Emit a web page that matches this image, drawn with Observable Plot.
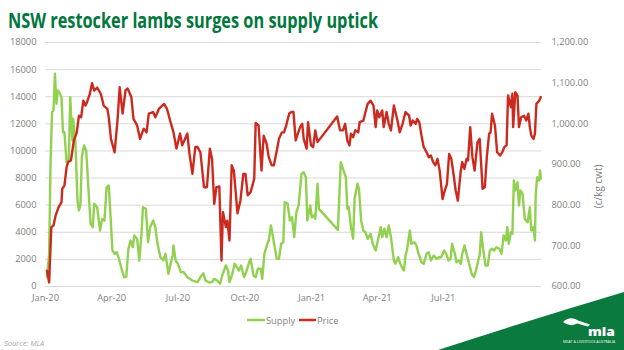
<!DOCTYPE html>
<html>
<head>
<meta charset="utf-8">
<script src="https://cdn.jsdelivr.net/npm/d3@7"></script>
<script src="https://cdn.jsdelivr.net/npm/@observablehq/plot@0.6"></script>
<style>
  html, body { margin: 0; padding: 0; background: #ffffff; }
  #wrap { position: relative; width: 624px; height: 350px; overflow: hidden; background: #ffffff; }
  #chart { position: absolute; left: 0; top: 0; }
  #overlay { position: absolute; left: 0; top: 0; pointer-events: none; }
</style>
</head>
<body>
<div id="wrap">
  <div id="chart"></div>
  <svg id="overlay" width="624" height="350" xmlns="http://www.w3.org/2000/svg">
    <text x="8" y="27.5" font-family="'Open Sans', sans-serif" font-weight="700" font-size="21" fill="#00773c" textLength="370" lengthAdjust="spacingAndGlyphs">NSW restocker lambs surges on supply uptick</text>
    <line x1="247" y1="320" x2="265" y2="320" stroke="#92d050" stroke-width="2.5"/>
    <text x="266" y="323.5" font-family="'Open Sans', sans-serif" font-size="9.3" fill="#7f7f7f">Supply</text>
    <line x1="299" y1="320" x2="316" y2="320" stroke="#cc2a1f" stroke-width="2.5"/>
    <text x="317" y="323.5" font-family="'Open Sans', sans-serif" font-size="9.3" fill="#7f7f7f">Price</text>
    <text x="4" y="346" font-family="'Open Sans', sans-serif" font-style="italic" font-size="7.5" fill="#a6a6a6">Source: MLA</text>
    <path d="M438,350 Q530,320 624,292 L624,350 Z" fill="#0b7a3e"/>
    <path d="M563,322 Q570,315.5 578,320.5 L590,324.5 L588,326.5 L577,323.5 Q570,327.5 563,322 Z" fill="#ffffff"/>
    <text x="588" y="335.5" font-family="'Open Sans', sans-serif" font-weight="800" font-size="12" fill="#ffffff" textLength="27" lengthAdjust="spacingAndGlyphs">mla</text>
    <text x="563" y="343" font-family="'Open Sans', sans-serif" font-size="3" fill="#ffffff" textLength="52" lengthAdjust="spacingAndGlyphs">MEAT &amp; LIVESTOCK AUSTRALIA</text>
  </svg>
</div>
<script>
// ---- Data ----
const priceDates = [
"2020-01-15","2020-01-18","2020-01-21","2020-01-24","2020-01-27","2020-01-31","2020-02-04","2020-02-05","2020-02-08","2020-02-11",
"2020-02-13","2020-02-17","2020-02-21","2020-02-25","2020-02-28","2020-03-02","2020-03-05","2020-03-08","2020-03-10","2020-03-14",
"2020-03-17","2020-03-20","2020-03-24","2020-03-29","2020-04-02","2020-04-07","2020-04-09","2020-04-12","2020-04-17","2020-04-21",
"2020-04-24","2020-04-28","2020-05-02","2020-05-05","2020-05-10","2020-05-13","2020-05-18","2020-05-22","2020-05-27","2020-05-31",
"2020-06-03","2020-06-09","2020-06-12","2020-06-17","2020-06-24","2020-06-28","2020-07-03","2020-07-07","2020-07-11","2020-07-16",
"2020-07-19","2020-07-26","2020-07-29","2020-08-02","2020-08-06","2020-08-09","2020-08-13","2020-08-18","2020-08-22","2020-08-26",
"2020-08-29","2020-09-01","2020-09-04","2020-09-08","2020-09-11","2020-09-13","2020-09-17","2020-09-19","2020-09-22","2020-09-25",
"2020-09-28","2020-10-03","2020-10-07","2020-10-11","2020-10-14","2020-10-17","2020-10-21","2020-10-26","2020-10-28","2020-11-01",
"2020-11-05","2020-11-08","2020-11-12","2020-11-15","2020-11-19","2020-11-22","2020-11-26","2020-11-29","2020-12-03","2020-12-06",
"2020-12-09","2020-12-13","2020-12-16","2020-12-19","2020-12-22","2020-12-25","2020-12-28","2020-12-31","2021-01-02","2021-01-06",
"2021-01-08","2021-01-12","2021-01-15","2021-01-18","2021-01-21","2021-02-17","2021-02-21","2021-02-25","2021-02-28","2021-03-03",
"2021-03-06","2021-03-08","2021-03-11","2021-03-14","2021-03-18","2021-03-20","2021-03-25","2021-03-28","2021-03-31","2021-04-04",
"2021-04-08","2021-04-11","2021-04-13","2021-04-16","2021-04-20","2021-04-22","2021-04-26","2021-04-29","2021-05-02","2021-05-06",
"2021-05-11","2021-05-14","2021-05-18","2021-05-22","2021-05-27","2021-05-29","2021-06-01","2021-06-05","2021-06-07","2021-06-10",
"2021-06-13","2021-06-16","2021-06-20","2021-06-23","2021-06-26","2021-06-29","2021-07-02","2021-07-05","2021-07-08","2021-07-12",
"2021-07-15","2021-07-18","2021-07-21","2021-07-24","2021-07-27","2021-07-30","2021-08-02","2021-08-06","2021-08-08","2021-08-11",
"2021-08-14","2021-08-16","2021-08-19","2021-08-22","2021-08-25","2021-08-29","2021-09-01","2021-09-05","2021-09-08","2021-09-11",
"2021-09-14","2021-09-16","2021-09-18","2021-09-22","2021-09-25","2021-09-29","2021-10-02","2021-10-05","2021-10-08","2021-10-10",
"2021-10-14","2021-10-16","2021-10-17","2021-10-20","2021-10-23","2021-10-25","2021-10-28","2021-11-01","2021-11-04","2021-11-07",
"2021-11-09","2021-11-11","2021-11-14","2021-11-16","2021-11-18","2021-11-22","2021-11-24"
];
const priceValues = [
639,610,746,750,775,795,807,840,848,893,
906,910,959,979,1020,1016,1057,1045,1053,1074,
1100,1082,1089,1074,1045,1037,1016,963,930,1008,
1090,1025,1082,1087,1066,1012,996,963,988,979,
1025,1029,1016,1037,1049,1037,1004,979,939,976,
947,976,926,877,943,943,930,844,844,939,
914,803,844,846,664,783,746,762,713,898,
885,780,811,877,877,824,832,865,1002,996,
885,971,951,918,898,898,934,963,979,979,
996,1025,1029,1029,959,976,992,1000,963,939,
1004,947,943,984,955,1018,984,984,1000,959,
947,976,967,984,979,1004,1008,1029,1049,1057,
1045,992,1033,1016,1033,992,1029,1000,984,1045,
1008,979,1000,1029,1020,996,1008,1000,1012,1004,
971,943,930,918,922,906,898,914,885,815,
836,852,926,914,877,836,811,885,906,889,
914,910,992,918,885,955,963,840,844,922,
976,979,1025,996,930,922,930,943,947,1070,
1041,1074,992,1078,1070,992,1016,1020,1008,1025,
992,971,963,976,1049,1057,1066
];
const supplyDates = [
"2020-01-15","2020-01-18","2020-01-20","2020-01-22","2020-01-24","2020-01-26","2020-01-28","2020-01-30","2020-02-02","2020-02-04",
"2020-02-06","2020-02-08","2020-02-11","2020-02-14","2020-02-16","2020-02-19","2020-02-20","2020-02-23","2020-02-26","2020-02-28",
"2020-03-01","2020-03-03","2020-03-06","2020-03-09","2020-03-13","2020-03-15","2020-03-18","2020-03-20","2020-03-24","2020-03-28",
"2020-03-31","2020-04-03","2020-04-06","2020-04-09","2020-04-11","2020-04-14","2020-04-17","2020-04-20","2020-04-23","2020-04-26",
"2020-04-30","2020-05-03","2020-05-06","2020-05-09","2020-05-12","2020-05-14","2020-05-18","2020-05-21","2020-05-24","2020-05-26",
"2020-05-30","2020-06-02","2020-06-05","2020-06-09","2020-06-12","2020-06-15","2020-06-19","2020-06-23","2020-06-26","2020-06-30",
"2020-07-03","2020-07-06","2020-07-07","2020-07-10","2020-07-13","2020-07-17","2020-07-21","2020-07-26","2020-08-02","2020-08-09",
"2020-08-13","2020-08-17","2020-08-20","2020-08-25","2020-08-29","2020-09-01","2020-09-05","2020-09-09","2020-09-12","2020-09-17",
"2020-09-20","2020-09-22","2020-09-26","2020-09-29","2020-10-02","2020-10-05","2020-10-08","2020-10-12","2020-10-15","2020-10-19",
"2020-10-21","2020-10-25","2020-10-28","2020-10-31","2020-11-04","2020-11-06","2020-11-09","2020-11-13","2020-11-15","2020-11-18",
"2020-11-20","2020-11-22","2020-11-26","2020-11-29","2020-12-02","2020-12-05","2020-12-07","2020-12-11","2020-12-14","2020-12-17",
"2020-12-20","2020-12-23","2020-12-26","2020-12-30","2021-01-02","2021-01-05","2021-01-07","2021-01-11","2021-01-13","2021-01-16",
"2021-01-18","2021-01-21","2021-01-23","2021-02-18","2021-02-22","2021-02-25","2021-03-01","2021-03-03","2021-03-05","2021-03-08",
"2021-03-11","2021-03-13","2021-03-17","2021-03-19","2021-03-22","2021-03-25","2021-03-28","2021-03-31","2021-04-04","2021-04-07",
"2021-04-11","2021-04-14","2021-04-18","2021-04-20","2021-04-23","2021-04-26","2021-04-29","2021-05-02","2021-05-06","2021-05-08",
"2021-05-12","2021-05-14","2021-05-18","2021-05-20","2021-05-22","2021-05-24","2021-05-28","2021-05-30","2021-06-03","2021-06-06",
"2021-06-09","2021-06-13","2021-06-16","2021-06-20","2021-06-23","2021-06-26","2021-06-30","2021-07-04","2021-07-07","2021-07-10",
"2021-07-14","2021-07-17","2021-07-20","2021-07-23","2021-07-25","2021-07-29","2021-07-31","2021-08-03","2021-08-06","2021-08-08",
"2021-08-11","2021-08-14","2021-08-17","2021-08-21","2021-08-24","2021-08-27","2021-08-30","2021-09-01","2021-09-03","2021-09-06",
"2021-09-09","2021-09-12","2021-09-15","2021-09-18","2021-09-21","2021-09-24","2021-09-28","2021-10-01","2021-10-04","2021-10-07",
"2021-10-09","2021-10-11","2021-10-14","2021-10-16","2021-10-18","2021-10-20","2021-10-23","2021-10-25","2021-10-27","2021-10-30",
"2021-11-02","2021-11-06","2021-11-09","2021-11-11","2021-11-14","2021-11-16","2021-11-17","2021-11-19","2021-11-22","2021-11-23",
"2021-11-24"
];
const supplyValues = [
690,2410,9300,12860,12980,15690,13480,14460,14210,13970,
11380,11380,9170,9300,13970,10770,12370,10770,6340,5610,
5980,9540,10400,10030,6340,4630,4380,6100,5850,4130,
4990,4870,7330,7450,5610,2660,2410,2530,2040,1420,
690,690,2780,3390,2900,3760,3520,1920,3890,5850,
5730,3270,4380,4870,4380,3150,2160,1920,2410,940,
1680,2290,3030,1920,1680,1060,1060,690,440,320,
690,980,440,300,320,570,440,200,810,1550,
1180,320,940,1680,1420,1180,1550,690,1060,1790,
2040,810,690,1310,1310,570,2410,3150,3390,4500,
3890,3270,2040,2040,3150,3270,6220,6100,4870,5110,
3640,5480,5980,8310,8430,8060,4870,5980,5110,5240,
4990,7580,5730,4180,9170,8680,8060,5730,5850,4380,
3520,6470,7580,7210,4870,4130,4010,3520,3890,3150,
2660,3390,4380,3640,4260,3640,4500,3640,1920,1680,
2160,1790,1310,1180,2290,2660,4130,3150,3270,3030,
2410,1790,1680,2410,2530,1920,2290,2040,2160,2160,
2660,2410,1920,2040,3150,2410,1790,1920,1680,2410,
3030,2410,1790,940,690,1180,1920,2290,4010,2660,
1550,1550,2660,2780,2660,2900,2780,2410,3760,3390,
4380,3150,4010,3890,7820,7080,7690,5980,7080,6840,
4990,4740,5850,4130,4380,3390,6710,8060,7820,8560,
7950
];
const leftTicks = [0, 2000, 4000, 6000, 8000, 10000, 12000, 14000, 16000, 18000];
const rightTicks = [600, 700, 800, 900, 1000, 1100, 1200];
const xTickDates = ["2020-01-13", "2020-04-13", "2020-07-13", "2020-10-13", "2021-01-13", "2021-04-13", "2021-07-13"];
const xTickLabels = ["Jan-20", "Apr-20", "Jul-20", "Oct-20", "Jan-21", "Apr-21", "Jul-21"];
const xDomain = ["2020-01-13", "2021-11-25"];
const rightAxisTitle = "(c/kg cwt)";

// ---- Build ----
const supply = supplyDates.map((d, i) => ({date: new Date(d), value: supplyValues[i]}));
const price = priceDates.map((d, i) => ({date: new Date(d), value: priceValues[i]}));
// price axis (600–1200) shares the plot height with supply axis (0–18000)
const toLeft = p => (p - rightTicks[0]) * (leftTicks[leftTicks.length - 1] / (rightTicks[rightTicks.length - 1] - rightTicks[0]));
const fromLeft = v => v / (leftTicks[leftTicks.length - 1] / (rightTicks[rightTicks.length - 1] - rightTicks[0])) + rightTicks[0];
const labelByTime = new Map(xTickDates.map((d, i) => [+new Date(d), xTickLabels[i]]));

const chart = Plot.plot({
  width: 624,
  height: 350,
  marginTop: 42,
  marginBottom: 64,
  marginLeft: 45,
  marginRight: 83,
  style: {fontFamily: "'Open Sans', sans-serif", fontSize: "9.3px", color: "#7f7f7f", background: "transparent"},
  x: {type: "utc", domain: xDomain.map(d => new Date(d))},
  y: {domain: [0, 18000]},
  marks: [
    Plot.gridY(leftTicks, {stroke: "#d9d9d9", strokeOpacity: 1, strokeWidth: 1}),
    Plot.axisY(leftTicks, {anchor: "left", tickSize: 0, tickPadding: 9, tickFormat: d => String(d), label: null}),
    Plot.axisY(rightTicks.map(toLeft), {anchor: "right", tickSize: 0, tickPadding: 10, tickFormat: v => d3.format(",.2f")(fromLeft(v)), label: null}),
    Plot.axisX(xTickDates.map(d => new Date(d)), {anchor: "bottom", tickSize: 0, tickPadding: 8, tickFormat: d => labelByTime.get(+d), label: null}),
    Plot.line(supply, {x: "date", y: "value", stroke: "#92d050", strokeWidth: 2.4}),
    Plot.line(price, {x: "date", y: d => toLeft(d.value), stroke: "#cc2a1f", strokeWidth: 2.4}),
    Plot.text([rightAxisTitle], {frameAnchor: "right", dx: 57, rotate: -90, fill: "#7f7f7f", fontSize: 10})
  ]
});
document.getElementById("chart").appendChild(chart);
</script>
</body>
</html>
